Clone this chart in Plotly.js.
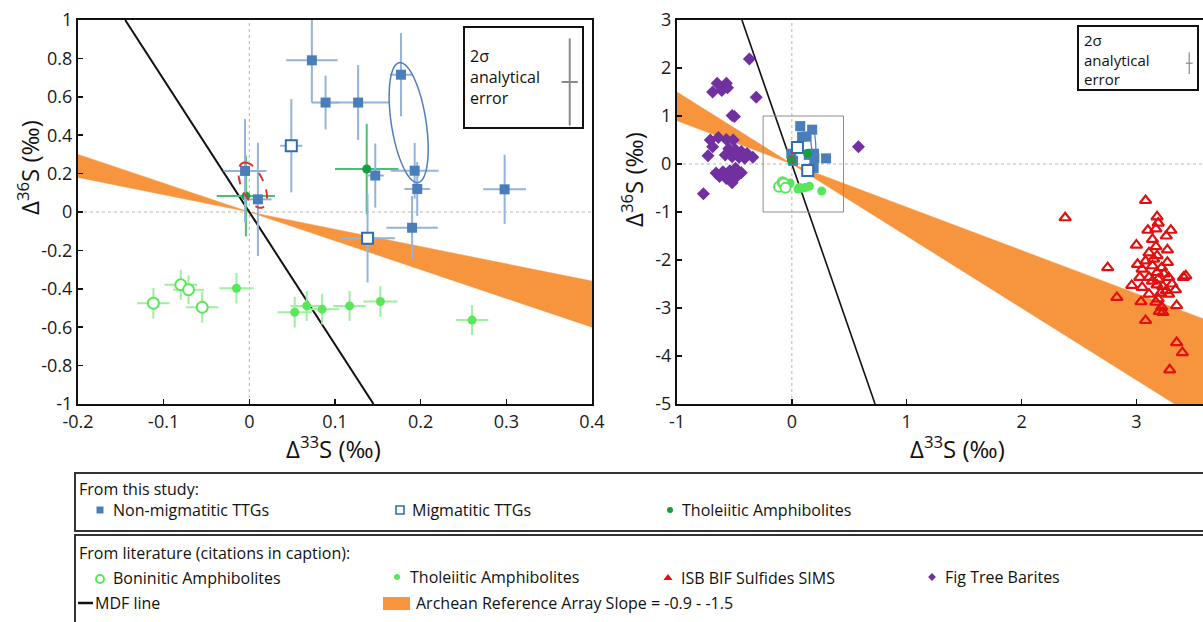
<!DOCTYPE html>
<html>
<head>
<meta charset="utf-8">
<script src="https://cdn.plot.ly/plotly-3.0.1.min.js"></script>
<style>html,body{margin:0;padding:0;background:#fff;}#chart{width:1203px;height:622px;}</style>
</head>
<body>
<div id="chart"></div>
<script>
// ---------------- DATA ----------------
// Left panel (this study, with 2-sigma error bars)
const nonMigX    = [0.073, 0.089, 0.127, 0.177, 0.147, 0.193, 0.196, 0.298, 0.190, -0.005, 0.010];
const nonMigY    = [0.790, 0.570, 0.570, 0.715, 0.190, 0.215, 0.120, 0.118, -0.082, 0.214, 0.066];
const nonMigXErr = [0.030, 0.016, 0.036, 0.013, 0.010, 0.028, 0.015, 0.025, 0.030, 0.025, 0.016];
const nonMigYErr = [0.220, 0.140, 0.195, 0.217, 0.167, 0.145, 0.140, 0.180, 0.165, 0.270, 0.295];

const migX    = [0.049, 0.138];
const migY    = [0.345, -0.137];
const migXErr = [0.013, 0.032];
const migYErr = [0.243, 0.230];

const thoStudyX    = [-0.004, 0.137];
const thoStudyY    = [0.083, 0.224];
const thoStudyXErr = [0.034, 0.037];
const thoStudyYErr = [0.210, 0.235];

// Literature
const boninX    = [-0.112, -0.080, -0.071, -0.055];
const boninY    = [-0.475, -0.379, -0.405, -0.496];
const boninXErr = [0.019, 0.019, 0.018, 0.019];
const boninYErr = [0.080, 0.078, 0.075, 0.080];

const thoLitX    = [-0.015, 0.053, 0.067, 0.085, 0.117, 0.153, 0.260];
const thoLitY    = [-0.397, -0.522, -0.489, -0.506, -0.489, -0.466, -0.563];
const thoLitXErr = [0.020, 0.020, 0.019, 0.020, 0.019, 0.020, 0.019];
const thoLitYErr = [0.080, 0.080, 0.078, 0.080, 0.078, 0.080, 0.078];

const figTreeX = [-0.37,-0.65,-0.57,-0.69,-0.61,-0.56,-0.31,-0.52,-0.50,-0.71,-0.64,-0.57,-0.51,-0.69,-0.73,
                  -0.55,-0.49,-0.44,-0.39,-0.34,-0.58,-0.52,-0.46,-0.41,-0.66,-0.60,-0.54,-0.49,-0.44,-0.63,
                  -0.57,-0.52,-0.48,-0.54,-0.77,0.58];
const figTreeY = [2.19,1.68,1.68,1.50,1.53,1.59,1.39,1.01,0.99,0.50,0.55,0.51,0.50,0.36,0.17,
                  0.32,0.29,0.26,0.22,0.14,0.19,0.15,0.14,0.12,-0.19,-0.16,-0.14,-0.09,-0.18,-0.26,
                  -0.30,-0.39,-0.26,-0.23,-0.62,0.36];

const isbX = [2.38,3.08,3.18,3.19,3.10,3.17,3.30,3.26,3.14,3.00,3.17,3.27,3.11,3.18,2.75,3.01,3.08,3.14,
              3.22,3.27,3.05,3.18,3.24,3.41,3.43,3.03,3.11,3.28,2.96,3.05,3.18,3.23,3.31,3.34,3.11,3.21,
              3.28,2.83,3.04,3.19,3.35,3.22,3.23,3.08,3.35,3.40,3.29,3.15,3.19,3.14,3.26,3.17,3.20];
const isbY = [-1.12,-0.76,-1.10,-1.23,-1.38,-1.35,-1.38,-1.50,-1.57,-1.69,-1.72,-1.79,-1.85,-1.91,-2.16,-2.09,-2.02,-2.12,
              -2.16,-2.05,-2.19,-2.26,-2.29,-2.36,-2.33,-2.36,-2.36,-2.36,-2.53,-2.57,-2.52,-2.55,-2.50,-2.62,-2.71,-2.69,
              -2.71,-2.78,-2.87,-2.81,-2.95,-2.98,-3.09,-3.26,-3.72,-3.93,-4.29,-1.98,-2.40,-2.44,-2.64,-2.88,-3.07];

// Reference lines
const mdfSlope = -6.9;
const arraySlopes = [-0.9, -1.5];

// 2-sigma analytical error key
const sigmaX = [0.0095];
const sigmaY = [0.227];

// Zoom box (right panel) and ellipses
const zoomBoxX = [-0.25, 0.45];
const zoomBoxY = [-1, 1];
const blueEllipse = {top: [0.176, 0.778], bottom: [0.196, 0.153], halfWidth: 0.0205};
const redEllipse  = {top: [-0.005, 0.258], bottom: [0.013, 0.022], halfWidth: 0.014};

// Axis ticks
const leftXTicks = [-0.2, -0.1, 0, 0.1, 0.2, 0.3, 0.4];
const leftXText  = ['-0.2', '-0.1', '0', '0.1', '0.2', '0.3', '0.4'];
const leftYTicks = [1, 0.8, 0.6, 0.4, 0.2, 0, -0.2, -0.4, -0.6, -0.8, -1];
const leftYText  = ['1', '0.8', '0.6', '0.4', '0.2', '0', '-0.2', '-0.4', '-0.6', '-0.8', '-1'];
const rightXTicks = [-1, 0, 1, 2, 3];
const rightXText  = ['-1', '0', '1', '2', '3'];
const rightYTicks = [3, 2, 1, 0, -1, -2, -3, -4, -5];
const rightYText  = ['3', '2', '1', '0', '-1', '-2', '-3', '-4', '-5'];

// ---------------- LAYOUT HELPERS ----------------
const W = 1203, H = 622;
const fx = p => p / W;
const fy = p => 1 - p / H;
const leftRangeX = [-0.2, 0.4], leftRangeY = [-1, 1];
const rightRangeX = [-1, 3.58], rightRangeY = [-5, 3];

const C = {
  blue: '#4a7ebb', blueErr: '#93b3db', blueDark: '#2f6cb3',
  dkGreen: '#12a040', dkGreenErr: '#4cbf72',
  ltGreen: '#5ae65a', ltGreenErr: '#9eef9e',
  orange: '#f7953f', purple: '#7030a0', red: '#e01010'
};
const FONT = 'Open Sans, Liberation Sans, sans-serif';

function band(xr, xa, ya) {
  const [s0, s1] = arraySlopes;
  return {
    x: [xr[0], 0, xr[1], xr[1], 0, xr[0]],
    y: [s0 * xr[0], 0, s0 * xr[1], s1 * xr[1], 0, s1 * xr[0]],
    xaxis: xa, yaxis: ya, mode: 'lines', fill: 'toself', fillcolor: C.orange,
    line: {color: C.orange, width: 0.5}, hoverinfo: 'skip'
  };
}
function mdf(yr, xa, ya, w) {
  return {x: [yr[1] / mdfSlope, yr[0] / mdfSlope], y: [yr[1], yr[0]], xaxis: xa, yaxis: ya,
          mode: 'lines', line: {color: '#111', width: w}, hoverinfo: 'skip'};
}
function ellipsePath(e, n) {
  const cx = (e.top[0] + e.bottom[0]) / 2, cy = (e.top[1] + e.bottom[1]) / 2;
  const ax = (e.top[0] - e.bottom[0]) / 2, ay = (e.top[1] - e.bottom[1]) / 2;
  let d = '';
  for (let i = 0; i <= n; i++) {
    const t = 2 * Math.PI * i / n;
    const x = cx + ax * Math.cos(t) + e.halfWidth * Math.sin(t);
    const y = cy + ay * Math.cos(t);
    d += (i === 0 ? 'M' : 'L') + x.toFixed(5) + ',' + y.toFixed(5);
  }
  return d + 'Z';
}
function errTrace(xs, ys, xe, ye, xa, ya, marker, errColor, showErr) {
  const t = {x: xs, y: ys, xaxis: xa, yaxis: ya, mode: 'markers', marker: marker, hoverinfo: 'skip'};
  if (showErr) {
    t.error_x = {type: 'data', array: xe, visible: true, color: errColor, thickness: 2, width: 0};
    t.error_y = {type: 'data', array: ye, visible: true, color: errColor, thickness: 2, width: 0};
  }
  return t;
}

const traces = [];
// ---- left panel ----
traces.push(band(leftRangeX, 'x', 'y'));
traces.push(mdf(leftRangeY, 'x', 'y', 2));
traces.push(errTrace(thoLitX, thoLitY, thoLitXErr, thoLitYErr, 'x', 'y',
  {symbol: 'circle', size: 9, color: C.ltGreen}, C.ltGreenErr, true));
traces.push(errTrace(boninX, boninY, boninXErr, boninYErr, 'x', 'y',
  {symbol: 'circle', size: 11, color: '#ffffff', line: {color: C.ltGreen, width: 2}}, C.ltGreenErr, true));
traces.push(errTrace(thoStudyX, thoStudyY, thoStudyXErr, thoStudyYErr, 'x', 'y',
  {symbol: 'circle', size: 9, color: C.dkGreen}, C.dkGreenErr, true));
traces.push(errTrace(nonMigX, nonMigY, nonMigXErr, nonMigYErr, 'x', 'y',
  {symbol: 'square', size: 10, color: C.blue}, C.blueErr, true));
traces.push(errTrace(migX, migY, migXErr, migYErr, 'x', 'y',
  {symbol: 'square', size: 11, color: '#ffffff', line: {color: C.blueDark, width: 2}}, C.blueErr, true));
// 2-sigma key (left)
traces.push({x: [0.374], y: [0.677], xaxis: 'x', yaxis: 'y', mode: 'markers', marker: {size: 1, color: 'rgba(0,0,0,0)'},
  error_x: {type: 'data', array: sigmaX, color: '#8a8a8a', thickness: 2, width: 0},
  error_y: {type: 'data', array: sigmaY, color: '#8a8a8a', thickness: 2, width: 0}, hoverinfo: 'skip'});

// ---- right panel ----
traces.push(band(rightRangeX, 'x2', 'y2'));
traces.push(mdf(rightRangeY, 'x2', 'y2', 1.6));
traces.push({x: figTreeX, y: figTreeY, xaxis: 'x2', yaxis: 'y2', mode: 'markers',
  marker: {symbol: 'diamond', size: 10, color: C.purple}, hoverinfo: 'skip'});
traces.push({x: isbX, y: isbY, xaxis: 'x2', yaxis: 'y2', mode: 'markers',
  marker: {symbol: 'triangle-up-open', size: 10, color: C.red, line: {color: C.red, width: 2.2}}, hoverinfo: 'skip'});
traces.push(errTrace(thoLitX, thoLitY, null, null, 'x2', 'y2', {symbol: 'circle', size: 9, color: C.ltGreen}, null, false));
traces.push(errTrace(boninX, boninY, null, null, 'x2', 'y2',
  {symbol: 'circle', size: 10, color: '#ffffff', line: {color: C.ltGreen, width: 2}}, null, false));
traces.push(errTrace(nonMigX, nonMigY, null, null, 'x2', 'y2', {symbol: 'square', size: 10, color: C.blue}, null, false));
traces.push(errTrace(migX, migY, null, null, 'x2', 'y2',
  {symbol: 'square', size: 11, color: '#ffffff', line: {color: C.blueDark, width: 2}}, null, false));
traces.push(errTrace(thoStudyX, thoStudyY, null, null, 'x2', 'y2', {symbol: 'circle', size: 9, color: C.dkGreen}, null, false));
// 2-sigma key (right)
traces.push({x: [3.46], y: [2.1], xaxis: 'x2', yaxis: 'y2', mode: 'markers', marker: {size: 1, color: 'rgba(0,0,0,0)'},
  error_x: {type: 'data', array: [0.03], color: '#8a8a8a', thickness: 1.2, width: 0},
  error_y: {type: 'data', array: sigmaY, color: '#8a8a8a', thickness: 1.2, width: 0}, hoverinfo: 'skip'});

// ---- bottom legend keys (overlay axis in pixel coordinates) ----
const legendKeys = [
  {px: 100, py: 510, symbol: 'square', size: 7, color: C.blue, line: {width: 0}},
  {px: 400, py: 510, symbol: 'square', size: 8, color: '#fff', line: {color: C.blueDark, width: 1.6}},
  {px: 670, py: 510, symbol: 'circle', size: 6, color: C.dkGreen, line: {width: 0}},
  {px: 100, py: 579, symbol: 'circle', size: 8, color: '#fff', line: {color: C.ltGreen, width: 2}},
  {px: 397, py: 577, symbol: 'circle', size: 6, color: C.ltGreen, line: {width: 0}},
  {px: 668, py: 578, symbol: 'triangle-up', size: 8, color: C.red, line: {width: 0}},
  {px: 932, py: 577, symbol: 'diamond', size: 6, color: C.purple, line: {width: 0}}
];
legendKeys.forEach(k => traces.push({x: [k.px], y: [k.py], xaxis: 'x3', yaxis: 'y3', mode: 'markers',
  marker: {symbol: k.symbol, size: k.size, color: k.color, line: k.line}, hoverinfo: 'skip', cliponaxis: false}));

// ---------------- AXES ----------------
const tickFont = {family: FONT, size: 18, color: '#1a1a1a'};
function axis(domain, range, tv, tt, anchor) {
  return {domain: domain, range: range, tickmode: 'array', tickvals: tv, ticktext: tt, anchor: anchor,
    showline: true, mirror: true, linecolor: '#111', linewidth: 2, ticks: 'inside', ticklen: 5, tickwidth: 1.5,
    tickcolor: '#111', showgrid: false, zeroline: false, tickfont: tickFont, fixedrange: true, automargin: false};
}
const yDom = [fy(404), fy(20)];
const xTitle = 'Δ<sup>33</sup>S (‰)', yTitle = 'Δ<sup>36</sup>S (‰)';

const zeroLine = (xa, ya) => [
  {type: 'line', xref: xa, yref: ya + ' domain', x0: 0, x1: 0, y0: 0, y1: 1, layer: 'below', line: {color: '#b5b5b5', width: 1, dash: 'dot'}},
  {type: 'line', xref: xa + ' domain', yref: ya, x0: 0, x1: 1, y0: 0, y1: 0, layer: 'below', line: {color: '#b5b5b5', width: 1, dash: 'dot'}}
];

const shapes = [
  ...zeroLine('x', 'y'), ...zeroLine('x2', 'y2'),
  {type: 'path', xref: 'x', yref: 'y', path: ellipsePath(blueEllipse, 80), line: {color: '#4f7fba', width: 1.5}},
  {type: 'path', xref: 'x', yref: 'y', path: ellipsePath(redEllipse, 80), line: {color: '#e03030', width: 2, dash: 'dash'}},
  {type: 'path', xref: 'x2', yref: 'y2', path: ellipsePath(blueEllipse, 80), line: {color: '#4f7fba', width: 1.2}},
  {type: 'path', xref: 'x2', yref: 'y2', path: ellipsePath(redEllipse, 80), line: {color: '#e03030', width: 1.2, dash: 'dot'}},
  {type: 'rect', xref: 'x2', yref: 'y2', x0: zoomBoxX[0], x1: zoomBoxX[1], y0: zoomBoxY[0], y1: zoomBoxY[1], line: {color: '#8c8c8c', width: 1}},
  // 2-sigma key boxes
  {type: 'rect', xref: 'paper', yref: 'paper', x0: fx(464), x1: fx(583), y0: fy(128), y1: fy(27), line: {color: '#111', width: 2}},
  {type: 'rect', xref: 'paper', yref: 'paper', x0: fx(1078), x1: fx(1198), y0: fy(90), y1: fy(26), line: {color: '#111', width: 2}},
  // bottom legend boxes
  {type: 'rect', xref: 'paper', yref: 'paper', x0: fx(75), x1: fx(1215), y0: fy(531), y1: fy(473), line: {color: '#333', width: 2}},
  {type: 'rect', xref: 'paper', yref: 'paper', x0: fx(75), x1: fx(1215), y0: fy(630), y1: fy(535), line: {color: '#333', width: 2}},
  {type: 'line', xref: 'paper', yref: 'paper', x0: fx(78), x1: fx(93), y0: fy(603), y1: fy(603), line: {color: '#111', width: 2.5}},
  {type: 'rect', xref: 'paper', yref: 'paper', x0: fx(383), x1: fx(410), y0: fy(610), y1: fy(597), fillcolor: C.orange, line: {width: 0}}
];

const ann = (px, py, text, size, xanchor, extra) => Object.assign({xref: 'paper', yref: 'paper', x: fx(px), y: fy(py), text: text,
  showarrow: false, xanchor: xanchor || 'left', yanchor: 'middle', align: 'left', borderpad: 0,
  font: {family: FONT, size: size, color: '#111'}}, extra || {});
const legFont = 16;
const annotations = [
  // axis titles
  ann(333, 447, xTitle, 24, 'center'),
  ann(957, 447, xTitle, 24, 'center'),
  ann(29, 168, yTitle, 24, 'center', {textangle: -90}),
  ann(632, 180, yTitle, 24, 'center', {textangle: -90}),
  // 2-sigma key texts
  ann(469, 77, '2σ<br>analytical<br>error', 16),
  ann(1083, 59, '2σ<br>analytical<br>error', 15),
  // bottom legend
  ann(78, 489, 'From this study:', legFont),
  ann(112, 510, 'Non-migmatitic TTGs', legFont),
  ann(411, 510, 'Migmatitic TTGs', legFont),
  ann(681, 510, 'Tholeiitic Amphibolites', legFont),
  ann(78, 553, 'From literature (citations in caption):', legFont),
  ann(112, 578, 'Boninitic Amphibolites', legFont),
  ann(409, 577, 'Tholeiitic Amphibolites', legFont),
  ann(680, 578, 'ISB BIF Sulfides SIMS', legFont),
  ann(944, 577, 'Fig Tree Barites', legFont),
  ann(94, 603, 'MDF line', legFont),
  ann(415, 603, 'Archean Reference Array Slope = -0.9 - -1.5', legFont)
];

const layout = {
  width: W, height: H, margin: {l: 0, r: 0, t: 0, b: 0},
  paper_bgcolor: '#ffffff', plot_bgcolor: 'rgba(0,0,0,0)', showlegend: false, hovermode: false,
  font: {family: FONT},
  xaxis: axis([fx(78), fx(592)], leftRangeX, leftXTicks, leftXText, 'y'),
  yaxis: axis(yDom, leftRangeY, leftYTicks, leftYText, 'x'),
  xaxis2: axis([fx(677), 1], rightRangeX, rightXTicks, rightXText, 'y2'),
  yaxis2: axis(yDom, rightRangeY, rightYTicks, rightYText, 'x2'),
  xaxis3: {domain: [0, 1], range: [0, W], visible: false, anchor: 'y3', fixedrange: true},
  yaxis3: {domain: [0, 1], range: [H, 0], visible: false, anchor: 'x3', fixedrange: true},
  shapes: shapes, annotations: annotations
};

Plotly.newPlot('chart', traces, layout, {staticPlot: true, displayModeBar: false});
</script>
</body>
</html>
